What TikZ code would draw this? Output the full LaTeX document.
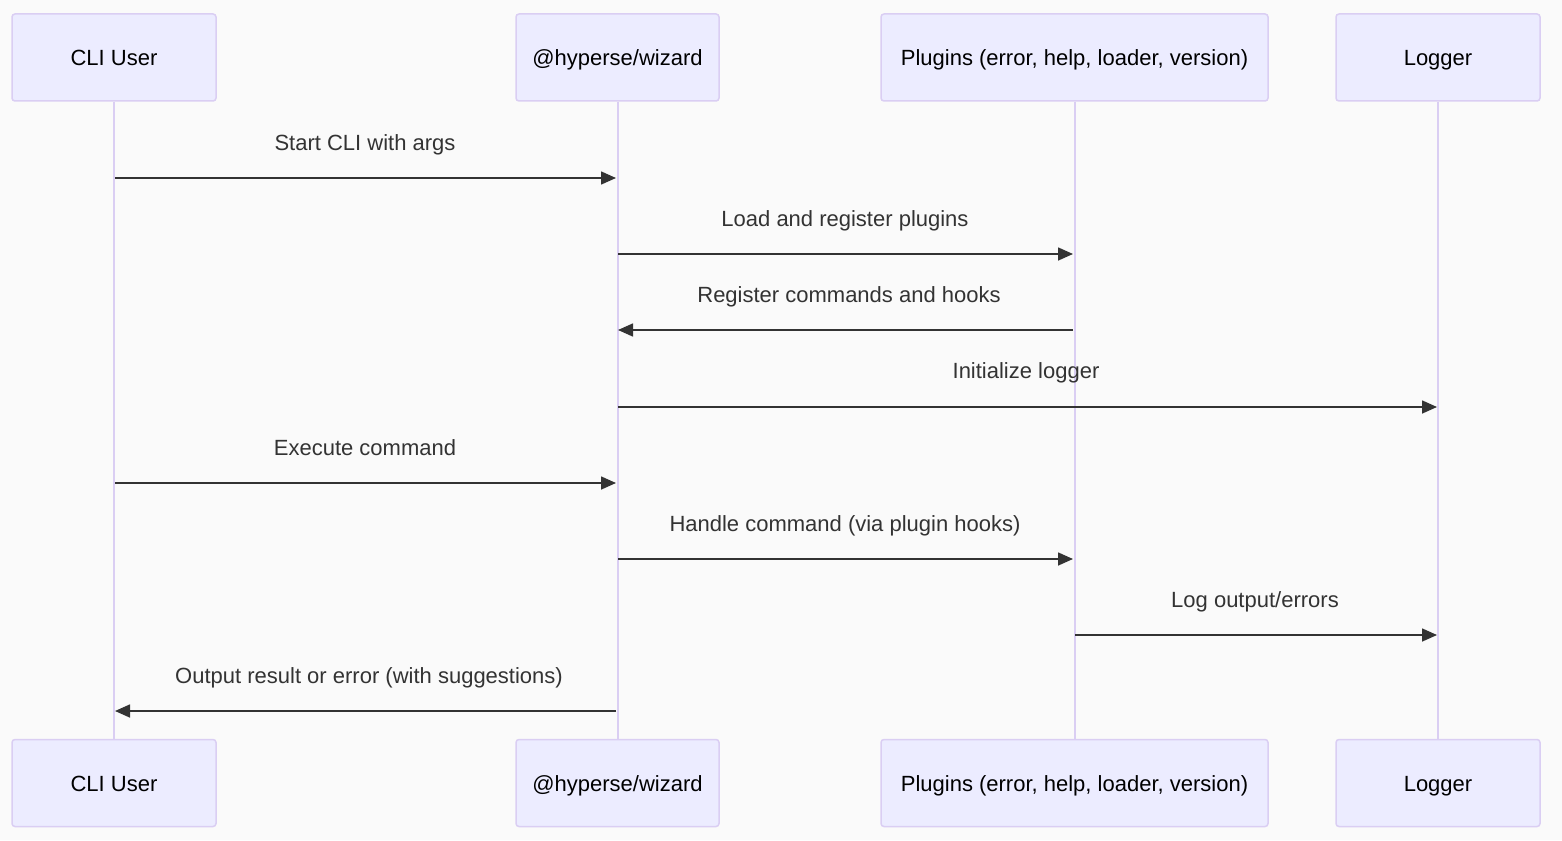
\documentclass[tikz,border=0pt]{standalone}
\usepackage{fontspec}
\setmainfont{Liberation Sans}
\usetikzlibrary{arrows.meta}
\definecolor{bg}{HTML}{FAFAFA}
\definecolor{actfill}{HTML}{ECECFF}
\definecolor{actline}{HTML}{DACEF3}
\definecolor{msgcol}{HTML}{333333}
\tikzset{
  actor/.style={draw=actline, fill=actfill, line width=1.5pt, rounded corners=3pt,
    minimum height=87pt, inner sep=0pt, text height=16pt, text depth=0pt,
    font=\fontsize{22}{26}\selectfont, text=black},
  lifeline/.style={draw=actline, line width=2pt},
  msg/.style={draw=msgcol, line width=1.6pt, -{Triangle[length=15pt,width=13pt]}},
  lbl/.style={font=\fontsize{22}{26}\selectfont, text=msgcol, inner sep=0pt, anchor=base}
}
\begin{document}
\begin{tikzpicture}[x=1pt,y=-1pt]
\path[fill=bg] (0,0) rectangle (1562,840);
\useasboundingbox (0,0) rectangle (1562,840);
% actors top
\node[actor, minimum width=204pt] (ut) at (114,57.5) {CLI User};
\node[actor, minimum width=203pt] (wt) at (617.5,57.5) {@hyperse/wizard};
\node[actor, minimum width=387pt] (pt) at (1074.5,57.5) {Plugins (error, help, loader, version)};
\node[actor, minimum width=204pt] (lt) at (1438,57.5) {Logger};
% actors bottom
\node[actor, minimum width=204pt] (ub) at (114,783) {CLI User};
\node[actor, minimum width=203pt] (wb) at (617.5,783) {@hyperse/wizard};
\node[actor, minimum width=387pt] (pb) at (1074.5,783) {Plugins (error, help, loader, version)};
\node[actor, minimum width=204pt] (lb) at (1438,783) {Logger};
% lifelines
\draw[lifeline] (ut.south) -- (ub.north);
\draw[lifeline] (wt.south) -- (wb.north);
\draw[lifeline] (pt.south) -- (pb.north);
\draw[lifeline] (lt.south) -- (lb.north);
% message endpoints
\coordinate (u1) at (115,178); \coordinate (w1) at (616,178);
\coordinate (w2) at (618,254); \coordinate (p2) at (1073,254);
\coordinate (p3) at (1073,330); \coordinate (w3) at (618,330);
\coordinate (w4) at (618,407); \coordinate (l4) at (1437,407);
\coordinate (u5) at (115,483); \coordinate (w5) at (616,483);
\coordinate (w6) at (618,559); \coordinate (p6) at (1073,559);
\coordinate (p7) at (1075,635); \coordinate (l7) at (1437,635);
\coordinate (w8) at (616,711); \coordinate (u8) at (115,711);
% messages
\draw[msg] (u1) -- (w1);
\draw[msg] (w2) -- (p2);
\draw[msg] (p3) -- (w3);
\draw[msg] (w4) -- (l4);
\draw[msg] (u5) -- (w5);
\draw[msg] (w6) -- (p6);
\draw[msg] (p7) -- (l7);
\draw[msg] (w8) -- (u8);
% labels
\node[lbl] (t1) at (365,150) {Start CLI with args};
\node[lbl] (t2) at (845,226) {Load and register plugins};
\node[lbl] (t3) at (849,302) {Register commands and hooks};
\node[lbl] (t4) at (1026,378.5) {Initialize logger};
\node[lbl] (t5) at (365,455) {Execute command};
\node[lbl] (t6) at (845,531) {Handle command (via plugin hooks)};
\node[lbl] (t7) at (1255,607) {Log output/errors};
\node[lbl] (t8) at (369,683) {Output result or error (with suggestions)};
\end{tikzpicture}
\end{document}
